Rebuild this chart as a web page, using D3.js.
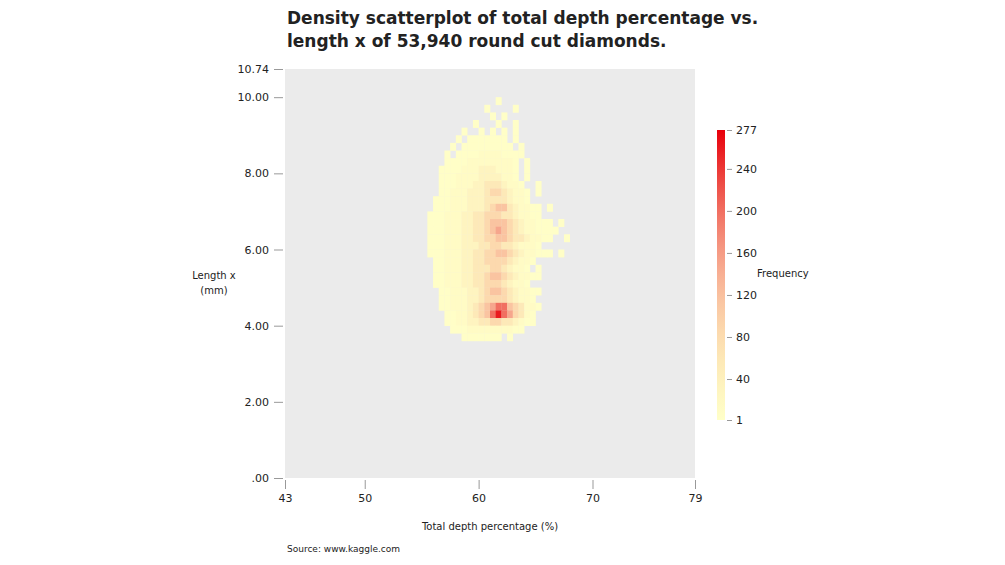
<!DOCTYPE html>
<html>
<head>
<meta charset="utf-8">
<script src="https://cdn.jsdelivr.net/npm/d3@7"></script>
<style>
  body { margin: 0; background: #fff; font-family: "DejaVu Sans", sans-serif; }
  text { fill: #222; }
</style>
</head>
<body>
<svg id="chart" width="1005" height="565"></svg>
<script>
// density grid, depth bins of 0.5 starting at 53.5, length bins of 0.2 from 9.8 down to 3.6
const depthStart = 53.5, depthStep = 0.5;
const lengthRows = [9.8, 9.6, 9.4, 9.2, 9.0, 8.8, 8.6, 8.4, 8.2, 8.0, 7.8, 7.6, 7.4, 7.2, 7.0, 6.8,
  6.6, 6.4, 6.2, 6.0, 5.8, 5.6, 5.4, 5.2, 5.0, 4.8, 4.6, 4.4, 4.2, 4.0, 3.8, 3.6];
const densityRows = [
  "................1",
  "..............1....1",
  "...............1.1",
  "............1...1..1",
  "..........1..1.1.1.1",
  ".........1.1111111.1",
  "........1.111111111.1",
  ".......1.111122221111",
  ".......1111222222221.1",
  "......11112223332221.1",
  "......11122223333221.1",
  "......111222334443221..1",
  "......1122233345543221.1",
  ".....11122233344443221",
  ".....1112223334566432211.1",
  "....11122233445554432211",
  "....1112223344566654322111.1",
  "....11122233445676543221111",
  "....1112223344556654432211..1",
  "....11122233344554432221",
  "....1112223344556654322111.1",
  ".....112223344555543221",
  ".....11222334445543221.1",
  ".....1122233445665432211",
  ".....11222334455543221",
  "......112223345665432211",
  "......11222334555543221",
  "......112223456788654221",
  ".......1122345689875421",
  ".......1122334455443211",
  "........1112222222211",
  "..........1111111.1"
];
// approximate frequency per level character
const levelValues = { "1": 3, "2": 12, "3": 30, "4": 55, "5": 85, "6": 115, "7": 150, "8": 200, "9": 260 };
const xTicks = [43, 50, 60, 70, 79];
const yTicks = [0, 2, 4, 6, 8, 10, 10.74];
const legendTicks = [1, 40, 80, 120, 160, 200, 240, 277];

const cells = [];
densityRows.forEach((row, i) => {
  row.split("").forEach((ch, j) => {
    if (levelValues[ch]) cells.push({ depth: depthStart + j * depthStep, len: lengthRows[i], n: levelValues[ch] });
  });
});

const svg = d3.select("#chart");
const x = d3.scaleLinear().domain([43, 79]).range([285, 695]);
const y = d3.scaleLinear().domain([0, 10.74]).range([478, 69]);
const color = d3.scaleLinear().domain([1, 277]).range([0, 1]).clamp(true);
const ramp = d3.interpolateRgbBasis(["#ffffc8", "#fde6b4", "#f8b49a", "#f06a5c", "#e8000b"]);

svg.append("rect").attr("x", 285).attr("y", 69).attr("width", 410).attr("height", 409).attr("fill", "#ebebeb");

svg.append("g").selectAll("rect").data(cells).enter().append("rect")
  .attr("x", d => x(d.depth))
  .attr("y", d => y(d.len + 0.2))
  .attr("width", x(depthStart + depthStep) - x(depthStart) + 0.3)
  .attr("height", y(0) - y(0.2) + 0.3)
  .attr("fill", d => ramp(color(d.n)));

const fmtY = v => v === 0 ? ".00" : v.toFixed(2);
const yAxis = svg.append("g").attr("transform", "translate(283,0)")
  .call(d3.axisLeft(y).tickValues(yTicks).tickFormat(fmtY).tickSize(9).tickPadding(5));
const xAxis = svg.append("g").attr("transform", "translate(0,480)")
  .call(d3.axisBottom(x).tickValues(xTicks).tickSize(9).tickPadding(5));
[yAxis, xAxis].forEach(a => {
  a.select(".domain").remove();
  a.selectAll("line").attr("stroke", "#999");
  a.selectAll("text").attr("font-size", 11).attr("font-family", "DejaVu Sans").attr("fill", "#222");
});

// legend
const ly = d3.scaleLinear().domain([1, 277]).range([420, 130]);
const defs = svg.append("defs");
const grad = defs.append("linearGradient").attr("id", "lg").attr("x1", 0).attr("y1", 1).attr("x2", 0).attr("y2", 0);
d3.range(0, 1.01, 0.1).forEach(t => grad.append("stop").attr("offset", t).attr("stop-color", ramp(t)));
svg.append("rect").attr("x", 717).attr("y", 130).attr("width", 8).attr("height", 290).attr("fill", "url(#lg)");
const lAxis = svg.append("g").attr("transform", "translate(727,0)")
  .call(d3.axisRight(ly).tickValues(legendTicks).tickSize(5).tickPadding(4));
lAxis.select(".domain").remove();
lAxis.selectAll("line").attr("stroke", "#999");
lAxis.selectAll("text").attr("font-size", 11).attr("font-family", "DejaVu Sans").attr("fill", "#222");
svg.append("text").attr("x", 757).attr("y", 277).attr("font-size", 10).text("Frequency");

// titles
svg.append("text").attr("x", 287).attr("y", 24).attr("font-size", 17).attr("font-weight", "bold").text("Density scatterplot of total depth percentage vs.");
svg.append("text").attr("x", 287).attr("y", 47).attr("font-size", 17).attr("font-weight", "bold").text("length x of 53,940 round cut diamonds.");
svg.append("text").attr("x", 214).attr("y", 279).attr("text-anchor", "middle").attr("font-size", 10).text("Length x");
svg.append("text").attr("x", 214).attr("y", 294).attr("text-anchor", "middle").attr("font-size", 10).text("(mm)");
svg.append("text").attr("x", 490).attr("y", 530).attr("text-anchor", "middle").attr("font-size", 10).text("Total depth percentage (%)");
svg.append("text").attr("x", 287).attr("y", 552).attr("font-size", 9).text("Source: www.kaggle.com");
</script>
</body>
</html>
